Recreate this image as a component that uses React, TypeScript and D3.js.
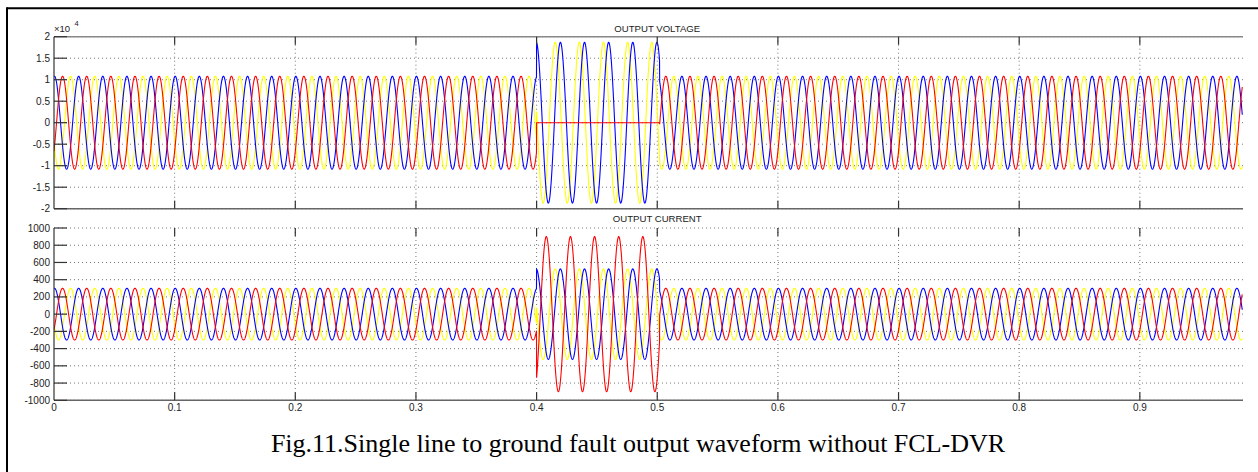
import React from "react";
import * as d3 from "d3";

const W = 1258;
const H = 472;

// time axis (s)
const xTicks = [0, 0.1, 0.2, 0.3, 0.4, 0.5, 0.6, 0.7, 0.8, 0.9];
const xTickLabels = ["0", "0.1", "0.2", "0.3", "0.4", "0.5", "0.6", "0.7", "0.8", "0.9"];
const tEnd = 0.985;
const freq = 50;
const faultStart = 0.4;
const faultEnd = 0.502;

// phases, drawn in this order
const phaseColors = ["#ffff00", "#0000ff", "#ff0000"];
const angleNormal = [112, -8, -128];
const voltAmpNormal = [1.08, 1.08, 1.08]; // x10^4
const voltAmpFault = [1.87, 1.87, 0];
const voltAngleFault = [82, 5, 0];
const currAmpNormal = [300, 300, 300];
const currAmpFault = [525, 525, 900];
const currAngleFault = [82, 5, -145];

const voltTicks = [-2, -1.5, -1, -0.5, 0, 0.5, 1, 1.5, 2];
const voltTickLabels = ["-2", "-1.5", "-1", "-0.5", "0", "0.5", "1", "1.5", "2"];
const currTicks = [-1000, -800, -600, -400, -200, 0, 200, 400, 600, 800, 1000];
const currTickLabels = ["-1000", "-800", "-600", "-400", "-200", "0", "200", "400", "600", "800", "1000"];

const x = d3.scaleLinear().domain([0, 1]).range([54, 1260.5]);
const clipRight = 1243;
const times = d3.range(0, tEnd, 0.0001);

function sample(ampN: number[], ampF: number[], angF: number[], k: number) {
  return times.map((t) => {
    const fault = t >= faultStart && t < faultEnd;
    const a = fault ? ampF[k] : ampN[k];
    const ph = ((fault ? angF[k] : angleNormal[k]) * Math.PI) / 180;
    return [t, a * Math.cos(2 * Math.PI * freq * t + ph)] as [number, number];
  });
}

const font = "'Liberation Sans', Arial, sans-serif";

type PanelProps = {
  id: string;
  top: number;
  bottom: number;
  domain: [number, number];
  ticks: number[];
  tickLabels: string[];
  title: string;
  titleY: number;
  ampN: number[];
  ampF: number[];
  angF: number[];
  xLabels: boolean;
  topLine: boolean;
};

const Panel = (p: PanelProps) => {
  const y = d3.scaleLinear().domain(p.domain).range([p.bottom, p.top]);
  const line = d3
    .line<[number, number]>()
    .x((d) => x(d[0]))
    .y((d) => y(d[1]));
  const x0 = x(0);
  return (
    <g>
      <defs>
        <clipPath id={p.id}>
          <rect x={x0} y={p.top - 2} width={clipRight - x0} height={p.bottom - p.top + 4} />
        </clipPath>
      </defs>
      <g clipPath={`url(#${p.id})`}>
        {p.ticks.map((v) => (
          <line key={"gy" + v} x1={x0} x2={clipRight} y1={y(v)} y2={y(v)} stroke="#777" strokeDasharray="1,3" />
        ))}
        {xTicks.slice(1).map((v) => (
          <line key={"gx" + v} x1={x(v)} x2={x(v)} y1={p.top} y2={p.bottom} stroke="#777" strokeDasharray="1,3" />
        ))}
        {phaseColors.map((c, k) => (
          <path key={c} d={line(sample(p.ampN, p.ampF, p.angF, k)) || ""} fill="none" stroke={c} strokeWidth={1.1} />
        ))}
      </g>
      {p.topLine && <line x1={x0} x2={clipRight} y1={p.top} y2={p.top} stroke="#888" strokeWidth={1.6} />}
      <line x1={x0} x2={clipRight} y1={p.bottom} y2={p.bottom} stroke="#666" strokeWidth={1.4} />
      <line x1={x0} x2={x0} y1={p.top} y2={p.bottom} stroke="#333" strokeWidth={1.2} />
      {xTicks.slice(1).map((v) => (
        <g key={"tx" + v}>
          <line x1={x(v)} x2={x(v)} y1={p.top} y2={p.top + 8} stroke="#333" strokeWidth={1.2} />
          <line x1={x(v)} x2={x(v)} y1={p.bottom} y2={p.bottom - 8} stroke="#333" strokeWidth={1.2} />
        </g>
      ))}
      {p.ticks.map((v, i) => (
        <g key={"ty" + v}>
          <line x1={x0} x2={x0 + 13} y1={y(v)} y2={y(v)} stroke="#333" strokeWidth={1.2} />
          <text x={x0 - 4} y={y(v) + 3.5} textAnchor="end" fontSize={10} fontFamily={font} fill="#222">
            {p.tickLabels[i]}
          </text>
        </g>
      ))}
      {p.xLabels &&
        xTicks.map((v, i) => (
          <text key={"lx" + v} x={x(v)} y={p.bottom + 11} textAnchor="middle" fontSize={10} fontFamily={font} fill="#222">
            {xTickLabels[i]}
          </text>
        ))}
      <text x={(x(0) + x(1)) / 2} y={p.titleY} textAnchor="middle" fontSize={9.6} fontFamily={font} fill="#222">
        {p.title}
      </text>
    </g>
  );
};

export default function App() {
  return (
    <svg width={W} height={H} style={{ position: "fixed", left: 0, top: 0, background: "#fff" }}>
      <rect width={W} height={H} fill="#fff" />
      <line x1={7} x2={W} y1={8.3} y2={8.3} stroke="#000" strokeWidth={2} />
      <line x1={7} x2={7} y1={7.3} y2={H} stroke="#000" strokeWidth={2} />
      <Panel
        id="cv"
        top={36.7}
        bottom={208.7}
        domain={[-2, 2]}
        ticks={voltTicks}
        tickLabels={voltTickLabels}
        title="OUTPUT VOLTAGE"
        titleY={32.3}
        ampN={voltAmpNormal}
        ampF={voltAmpFault}
        angF={voltAngleFault}
        xLabels={false}
        topLine={true}
      />
      <text x={54} y={32} fontSize={9.5} fontFamily={font} fill="#222">
        ×10
      </text>
      <text x={74.5} y={25.5} fontSize={7.5} fontFamily={font} fill="#222">
        4
      </text>
      <Panel
        id="cc"
        top={228}
        bottom={400.3}
        domain={[-1000, 1000]}
        ticks={currTicks}
        tickLabels={currTickLabels}
        title="OUTPUT CURRENT"
        titleY={222.3}
        ampN={currAmpNormal}
        ampF={currAmpFault}
        angF={currAngleFault}
        xLabels={true}
        topLine={false}
      />
      <text x={638} y={452} textAnchor="middle" fontSize={26} fontFamily="'Liberation Serif', 'Times New Roman', serif" fill="#000">
        Fig.11.Single line to ground fault output waveform without FCL-DVR
      </text>
    </svg>
  );
}
